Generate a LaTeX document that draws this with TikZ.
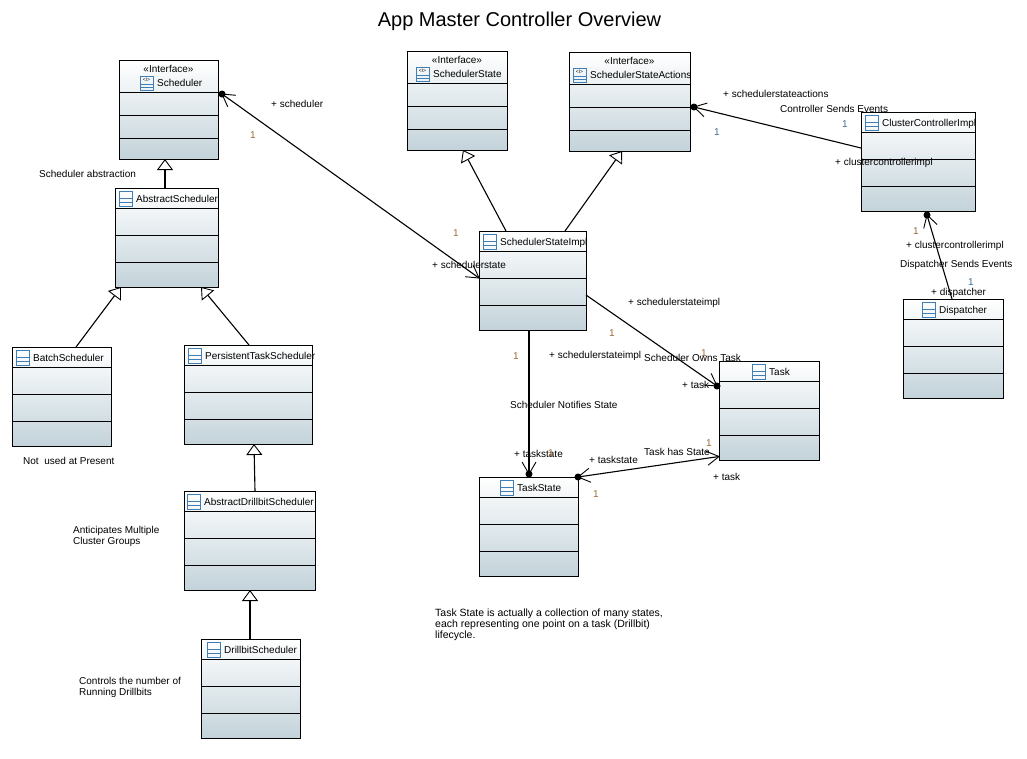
\documentclass[tikz,border=0pt]{standalone}
\usepackage{fontspec}
\setmainfont{Liberation Sans}
\usetikzlibrary{arrows.meta}
\definecolor{classblue}{HTML}{3F7FB5}
\definecolor{classshade}{HTML}{C3D3DA}
\definecolor{multbrown}{HTML}{9A6B35}
\definecolor{multblue}{HTML}{3A6E96}
% plain open vee, tip on the end point
\pgfarrowsdeclare{openvee}{openvee}
{\pgfarrowsleftextend{-12pt}\pgfarrowsrightextend{0pt}}
{\pgfsetdash{}{0pt}\pgfsetmiterjoin\pgfsetlinewidth{0.9pt}
  \pgfpathmoveto{\pgfpoint{-12pt}{7pt}}
  \pgfpathlineto{\pgfpointorigin}
  \pgfpathlineto{\pgfpoint{-12pt}{-7pt}}
  \pgfusepathqstroke}
\tikzset{
  classbody/.style={rectangle,draw,line width=1pt,inner sep=0pt,outer sep=0pt,anchor=north west,
    minimum height=99pt,top color=white,bottom color=classshade},
  classline/.style={line width=1pt},
  classicon/.style={draw=classblue,line width=0.8pt},
  lbl/.style={anchor=west,inner sep=0pt,font=\fontsize{10}{11}\selectfont,text height=7.5pt,text depth=0.5pt},
  block/.style={anchor=west,inner sep=0pt,font=\fontsize{10}{11}\selectfont,align=left},
  multa/.style={lbl,anchor=center,text=multbrown},
  multb/.style={lbl,anchor=center,text=multblue},
  dot/.style={circle,fill=black,inner sep=0pt,minimum size=7pt},
  gen/.style={line width=1.1pt,-{Triangle[open,fill=white,length=11pt,width=16pt,line width=0.9pt]}},
  assoc/.style={line width=1.1pt,>=openvee}
}
% id, left, top, width, icon offset, name
\newcommand{\plainclass}[6]{
  \node[classbody,minimum width=#4pt] (#1) at (#2,#3) {};
  \draw[classline] ([yshift=-20pt]#1.north west) -- ([yshift=-20pt]#1.north east);
  \draw[classline] ([yshift=-47pt]#1.north west) -- ([yshift=-47pt]#1.north east);
  \draw[classline] ([yshift=-74pt]#1.north west) -- ([yshift=-74pt]#1.north east);
  \draw[classicon] ([xshift=#5pt,yshift=-3pt]#1.north west) rectangle ++(13,15);
  \draw[classicon] ([xshift=#5pt,yshift=-10pt]#1.north west) -- ++(13,0);
  \draw[classicon] ([xshift=#5pt,yshift=-14pt]#1.north west) -- ++(13,0);
  \node[lbl] (#1name) at ([xshift=#5pt+17pt,yshift=-10.5pt]#1.north west) {#6};
}
\newcommand{\ifaceclass}[6]{
  \node[classbody,minimum width=#4pt] (#1) at (#2,#3) {};
  \draw[classline] ([yshift=-32pt]#1.north west) -- ([yshift=-32pt]#1.north east);
  \draw[classline] ([yshift=-55pt]#1.north west) -- ([yshift=-55pt]#1.north east);
  \draw[classline] ([yshift=-78pt]#1.north west) -- ([yshift=-78pt]#1.north east);
  \node[lbl,anchor=center] (#1stereo) at ([yshift=-9pt]#1.north) {«Interface»};
  \draw[classicon] ([xshift=#5pt,yshift=-16pt]#1.north west) rectangle ++(13,14);
  \draw[classicon] ([xshift=#5pt,yshift=-24pt]#1.north west) -- ++(13,0);
  \draw[classicon] ([xshift=#5pt,yshift=-27pt]#1.north west) -- ++(13,0);
  \node[inner sep=0pt,font=\fontsize{5}{5}\selectfont] (#1icon) at ([xshift=#5pt+6.5pt,yshift=-20pt]#1.north west) {<I>};
  \node[lbl] (#1name) at ([xshift=#5pt+17pt,yshift=-23pt]#1.north west) {#6};
}

\begin{document}
\begin{tikzpicture}[x=1pt,y=-1pt]
	\useasboundingbox (0,0) rectangle (1027,758);
	\node[font=\fontsize{20}{22}\selectfont,inner sep=0pt] (title) at (519.5,21) {App Master Controller Overview};

	% classes
	\ifaceclass{Scheduler}{119}{60}{99}{21}{Scheduler}
	\ifaceclass{SchedulerState}{407}{51}{100}{9}{SchedulerState}
	\ifaceclass{SchedulerStateActions}{569}{52}{121}{4}{SchedulerStateActions}
	\plainclass{AbstractScheduler}{115}{188}{103}{4}{AbstractScheduler}
	\plainclass{BatchScheduler}{12}{347}{99}{4}{BatchScheduler}
	\plainclass{PersistentTaskScheduler}{184}{345}{128}{4}{PersistentTaskScheduler}
	\plainclass{AbstractDrillbitScheduler}{184}{491}{131}{3}{AbstractDrillbitScheduler}
	\plainclass{DrillbitScheduler}{201}{639}{99}{6}{DrillbitScheduler}
	\plainclass{SchedulerStateImpl}{479}{231}{107}{4}{SchedulerStateImpl}
	\plainclass{ClusterControllerImpl}{861}{112}{114}{4}{ClusterControllerImpl}
	\plainclass{Dispatcher}{903}{299}{100}{19}{Dispatcher}
	\plainclass{Task}{719}{361}{100}{33}{Task}
	\plainclass{TaskState}{479}{477}{99}{21}{TaskState}

	% ends of the associations
	\node[dot] (dotscheduler) at (222,94) {};
	\node[dot] (dotactions) at (694,107) {};
	\node[dot] (dotcluster) at (927,215) {};
	\node[dot] (dottask) at (717,386) {};
	\node[dot] (dotstatetop) at (529,474) {};
	\node[dot] (dotstateright) at (578,477) {};

	% inheritance
	\path[gen]
	([xshift=-1.5pt]AbstractScheduler.north) edge ([xshift=-3.5pt]Scheduler.south)
	([xshift=14.5pt]BatchScheduler.north) edge ([xshift=-45.5pt]AbstractScheduler.south)
	([xshift=1pt]PersistentTaskScheduler.north) edge ([xshift=34.5pt]AbstractScheduler.south)
	([xshift=5.5pt]AbstractDrillbitScheduler.north) edge ([xshift=6pt]PersistentTaskScheduler.south)
	([xshift=-0.5pt]DrillbitScheduler.north) edge ([xshift=0.5pt]AbstractDrillbitScheduler.south)
	([xshift=-26.5pt]SchedulerStateImpl.north) edge ([xshift=6pt]SchedulerState.south)
	([xshift=32.5pt]SchedulerStateImpl.north) edge ([xshift=-7.5pt]SchedulerStateActions.south);

	% associations
	\path[assoc]
	(dotscheduler.center) edge[<->] ([yshift=2.5pt]SchedulerStateImpl.west)
	([yshift=13.5pt]ClusterControllerImpl.west) edge[->] (dotactions.center)
	([xshift=-1pt]Dispatcher.north) edge[->] (dotcluster.center)
	([yshift=-14.5pt]SchedulerStateImpl.east) edge[->] (dottask.center)
	([xshift=-3.5pt]SchedulerStateImpl.south) edge[->] (dotstatetop.center)
	(dotstateright.center) edge[<->] ([yshift=-46pt]Task.west);

	% labels
	\node[lbl] (roleScheduler) at (271,104) {+ scheduler};
	\node[lbl] (noteAbstraction) at (39,174) {Scheduler abstraction};
	\node[lbl] (roleState) at (432,265) {+ schedulerstate};
	\node[lbl] (roleActions) at (723,94) {+ schedulerstateactions};
	\node[lbl] (noteController) at (780,109) {Controller Sends Events};
	\node[lbl] (roleClusterA) at (835,162) {+ clustercontrollerimpl};
	\node[lbl] (roleClusterB) at (906,245) {+ clustercontrollerimpl};
	\node[lbl] (noteDispatcher) at (900,264) {Dispatcher Sends Events};
	\node[lbl] (roleDispatcher) at (931,292) {+ dispatcher};
	\node[lbl] (roleImplA) at (628,302) {+ schedulerstateimpl};
	\node[lbl] (roleImplB) at (549,355) {+ schedulerstateimpl};
	\node[lbl] (noteOwns) at (644,358) {Scheduler Owns Task};
	\node[lbl] (roleTaskA) at (682,385) {+ task};
	\node[lbl] (noteNotifies) at (510,405) {Scheduler Notifies State};
	\node[lbl] (roleTaskStateA) at (514,454) {+ taskstate};
	\node[lbl] (roleTaskStateB) at (589,460) {+ taskstate};
	\node[lbl] (noteHas) at (644,452) {Task has State};
	\node[lbl] (roleTaskB) at (713,477) {+ task};
	\node[lbl] (notePresent) at (23,461) {Not\ \ used at Present};
	\node[block] (noteGroups) at (73,536.5) {Anticipates Multiple\\Cluster Groups};
	\node[block] (noteCount) at (79,687.5) {Controls the number of\\Running Drillbits};
	\node[block,font=\fontsize{10.5}{11}\selectfont] (noteLifecycle) at (435,625) {Task State is actually a collection of many states,\\each representing one point on a task (Drillbit)\\lifecycle.};

	% multiplicities
	\node[multa] (multA) at (253,135) {1};
	\node[multa] (multB) at (456,233) {1};
	\node[multb] (multC) at (717,132) {1};
	\node[multb] (multD) at (845,124) {1};
	\node[multa] (multE) at (916,231) {1};
	\node[multb] (multF) at (971,282) {1};
	\node[multa] (multG) at (612,333) {1};
	\node[multa] (multH) at (516,356) {1};
	\node[multa] (multI) at (704,353) {1};
	\node[multa] (multJ) at (551,453) {1};
	\node[multa] (multK) at (709,443) {1};
	\node[multa] (multL) at (596,494) {1};
\end{tikzpicture}
\end{document}
